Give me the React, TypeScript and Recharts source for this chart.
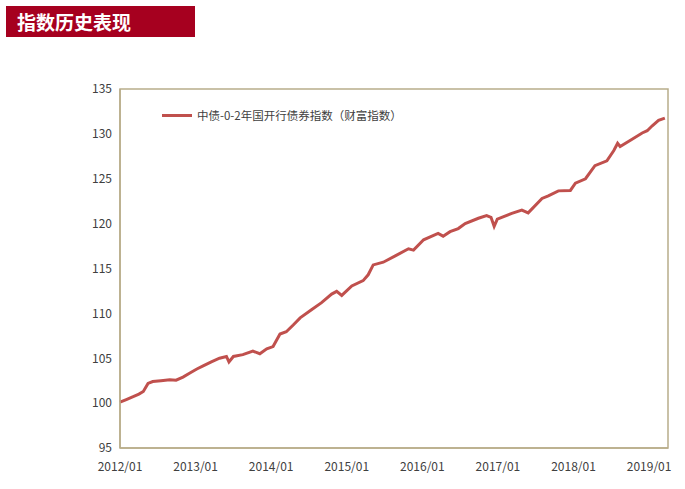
import { LineChart, Line, XAxis, YAxis, ReferenceArea, Legend } from "recharts";

// months since 2012/01
const monthIdx = [
  0, 1, 2, 3, 3.7, 4.45, 5.2, 6.5, 7.9, 8.9, 10, 11.1, 12.2, 13.2, 14.5, 15.8,
  16.9, 17.3, 18, 19.5, 21.1, 22.2, 23.3, 24.3, 25.4, 26.4, 27.5, 28.6, 30.4,
  32, 33.6, 34.4, 35.2, 36.8, 38.6, 39.4, 40.2, 41.8, 43.7, 45.8, 46.6, 48.2,
  50.5, 51.3, 52.4, 53.7, 54.8, 56.9, 58.2, 58.9, 59.4, 59.9, 62.2, 63.8, 64.8,
  67, 68, 69.6, 71.5, 72.3, 73.9, 75.4, 77.3, 78.4, 79, 79.4, 81.3, 82.9, 83.7,
  84.5, 85.5, 86.5,
];

const indexValue = [
  100.1, 100.4, 100.7, 101.0, 101.3, 102.2, 102.4, 102.5, 102.6, 102.55, 102.9,
  103.35, 103.8, 104.15, 104.6, 105.0, 105.2, 104.6, 105.2, 105.4, 105.8, 105.5,
  106.05, 106.3, 107.7, 107.95, 108.7, 109.5, 110.4, 111.2, 112.15, 112.45,
  112.0, 113.05, 113.65, 114.3, 115.4, 115.7, 116.4, 117.2, 117.05, 118.2, 118.9,
  118.6, 119.1, 119.45, 120.0, 120.6, 120.9, 120.7, 119.7, 120.5, 121.15, 121.5,
  121.2, 122.8, 123.1, 123.65, 123.7, 124.5, 125.0, 126.45, 127.0, 128.15,
  128.95, 128.6, 129.4, 130.1, 130.35, 130.9, 131.5, 131.75,
];

const xTicks = [0, 12, 24, 36, 48, 60, 72, 84];
const xLabels = ["2012/01", "2013/01", "2014/01", "2015/01", "2016/01", "2017/01", "2018/01", "2019/01"];
const yTicks = [95, 100, 105, 110, 115, 120, 125, 130, 135];

const seriesName = "中债-0-2年国开行债券指数（财富指数）";

const data = monthIdx.map((m, i) => ({ m, v: indexValue[i] }));

const FONT = "'Noto Sans CJK SC', 'Noto Sans', sans-serif";
const LINE = "#c0504d";
const FRAME = "#b8ad8a";

function LegendBox() {
  return (
    <div style={{ display: "flex", alignItems: "center", fontFamily: FONT, fontSize: 11.5, color: "#404040" }}>
      <span style={{ display: "inline-block", width: 30, height: 3, background: LINE, marginRight: 5 }} />
      <span>{seriesName}</span>
    </div>
  );
}

export default function App() {
  return (
    <div style={{ position: "absolute", left: 0, top: 0, width: 685, height: 489, background: "#fff" }}>
      <div
        style={{
          position: "absolute",
          left: 6,
          top: 6,
          width: 189,
          height: 31,
          background: "#a6001f",
          color: "#fff",
          fontFamily: FONT,
          fontWeight: 700,
          fontSize: 19,
          lineHeight: "31px",
          paddingLeft: 11,
          boxSizing: "border-box",
        }}
      >
        指数历史表现
      </div>
      <LineChart width={685} height={489} data={data} margin={{ top: 73, right: 17, bottom: 9, left: 0 }}>
        <XAxis
          dataKey="m"
          type="number"
          domain={[0, 87]}
          ticks={xTicks}
          tickFormatter={(v: number) => xLabels[xTicks.indexOf(v)]}
          height={32}
          tick={{ fill: "#404040", fontSize: 12, fontFamily: FONT }}
          tickLine={false}
          tickMargin={8}
          axisLine={{ stroke: FRAME, strokeWidth: 1.5 }}
        />
        <YAxis
          type="number"
          domain={[95, 135]}
          ticks={yTicks}
          width={120}
          tick={{ fill: "#404040", fontSize: 12, fontFamily: FONT }}
          tickLine={false}
          axisLine={{ stroke: FRAME, strokeWidth: 1.5 }}
        />
        <ReferenceArea x1={0} x2={87} y1={95} y2={135} fill="none" stroke={FRAME} strokeWidth={1.5} />
        <Legend
          verticalAlign="top"
          align="left"
          content={() => <LegendBox />}
          wrapperStyle={{ position: "absolute", top: 107, left: 162, width: 300 }}
        />
        <Line
          type="linear"
          dataKey="v"
          name={seriesName}
          stroke={LINE}
          strokeWidth={3}
          dot={false}
          isAnimationActive={false}
        />
      </LineChart>
    </div>
  );
}
